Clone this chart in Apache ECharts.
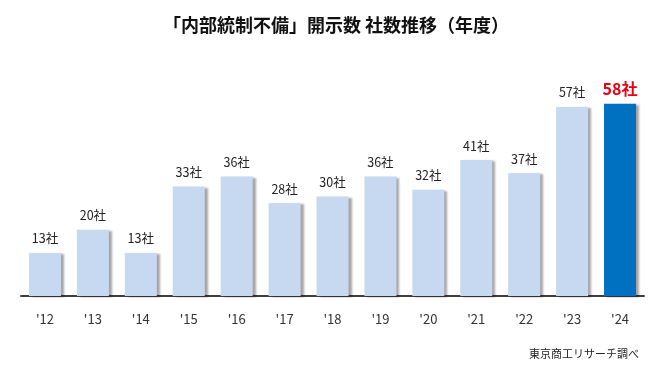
<!DOCTYPE html>
<html><head><meta charset="utf-8">
<script src="https://cdn.jsdelivr.net/npm/echarts@6/dist/echarts.min.js"></script>
<style>html,body{margin:0;padding:0;background:#fff}#c{width:672px;height:371px}</style>
</head><body><div id="c"></div>
<script>
const categories = ["'12","'13","'14","'15","'16","'17","'18","'19","'20","'21","'22","'23","'24"];
const values = [13,20,13,33,36,28,30,36,32,41,37,57,58];
const titleText = "「内部統制不備」開示数 社数推移（年度）";
const sourceText = "東京商工リサーチ調べ";
const FONT = '"Noto Sans CJK JP", "Noto Sans", sans-serif';
const last = values.length - 1;
const chart = echarts.init(document.getElementById('c'));
chart.setOption({
  animation: false,
  backgroundColor: '#fff',
  title: [
    {text: titleText, left: 'center', top: 11, textStyle: {fontFamily: FONT, fontSize: 18, fontWeight: 'bold', color: '#111'}},
    {text: sourceText, right: 28, top: 343, textStyle: {fontFamily: FONT, fontSize: 11, fontWeight: 'normal', color: '#222'}}
  ],
  grid: {left: 21, right: 28, top: 97, bottom: 75, containLabel: false},
  xAxis: {
    type: 'category', data: categories,
    axisLine: {lineStyle: {color: '#3f3f3f', width: 2}},
    axisTick: {show: false},
    axisLabel: {fontFamily: FONT, fontSize: 13, color: '#333', margin: 17}
  },
  yAxis: {type: 'value', min: 0, max: 60, show: false, splitLine: {show: false}},
  series: [{
    type: 'bar', barWidth: 32,
    data: values.map((v, i) => ({
      value: v,
      itemStyle: {color: i === last ? '#0070c0' : '#c6d9f0'},
      label: i === last ? {fontSize: 16, fontWeight: 'bold', color: '#e60012', distance: 7} : {}
    })),
    itemStyle: {shadowColor: 'rgba(0,0,0,0.35)', shadowOffsetX: 3, shadowOffsetY: 1, shadowBlur: 2},
    label: {show: true, position: 'top', distance: 8, formatter: p => p.value + '社', fontFamily: FONT, fontSize: 12.5, color: '#222'}
  }]
});
</script></body></html>
